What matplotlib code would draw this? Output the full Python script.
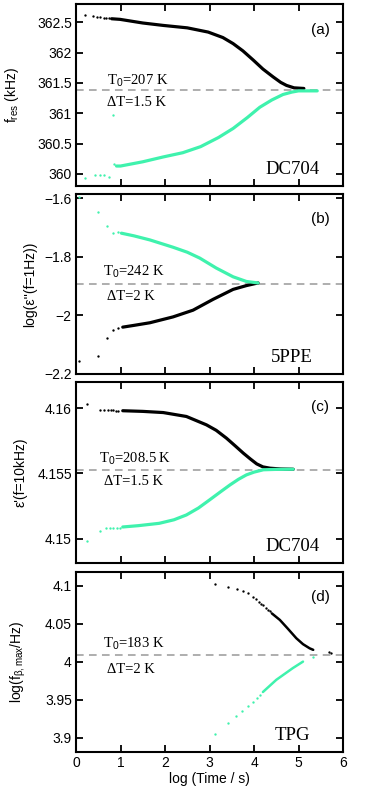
import matplotlib
matplotlib.use('Agg')
import matplotlib.pyplot as plt

plt.rcParams['font.family'] = ['Liberation Sans', 'DejaVu Sans']
plt.rcParams['mathtext.fontset'] = 'custom'
plt.rcParams['mathtext.rm'] = 'Liberation Sans'
plt.rcParams['mathtext.it'] = 'Liberation Sans'

TEAL = '#3ff2ad'

# (a) DC704 resonance frequency
a_blk_dots_x = [0.2, 0.39, 0.48, 0.55, 0.62, 0.68, 0.74]
a_blk_dots_y = [362.63, 362.6, 362.59, 362.585, 362.58, 362.575, 362.57]
a_blk_x = [0.8, 0.99, 1.5, 1.96, 2.5, 2.97, 3.3, 3.53, 3.75, 3.98, 4.2, 4.43, 4.6, 4.73, 4.9, 5.12]
a_blk_y = [362.56, 362.55, 362.49, 362.45, 362.41, 362.34, 362.25, 362.15, 362.03, 361.88,
           361.73, 361.6, 361.51, 361.46, 361.42, 361.41]
a_tea_dots_x = [0.2, 0.42, 0.55, 0.64, 0.74, 0.82, 0.86]
a_tea_dots_y = [359.94, 359.98, 359.98, 359.98, 359.95, 360.98, 360.16]
a_tea_x = [0.91, 1.0, 1.5, 1.96, 2.4, 2.8, 3.2, 3.53, 3.85, 4.13, 4.4, 4.65, 4.85, 5.0, 5.2, 5.42]
a_tea_y = [360.13, 360.13, 360.2, 360.28, 360.35, 360.45, 360.6, 360.75, 360.93, 361.1,
           361.22, 361.31, 361.35, 361.37, 361.37, 361.37]

# (b) 5PPE loss
b_tea_dots_x = [0.075, 0.49, 0.69, 0.84, 0.95]
b_tea_dots_y = [-1.597, -1.647, -1.693, -1.719, -1.714]
b_tea_x = [1.02, 1.3, 1.66, 2.18, 2.5, 2.78, 3.15, 3.53, 3.83, 4.09]
b_tea_y = [-1.719, -1.728, -1.742, -1.767, -1.784, -1.804, -1.838, -1.868, -1.884, -1.889]
b_blk_dots_x = [0.075, 0.49, 0.69, 0.84, 0.95]
b_blk_dots_y = [-2.156, -2.138, -2.076, -2.049, -2.042]
b_blk_x = [1.05, 1.3, 1.66, 2.18, 2.63, 3.08, 3.53, 3.83, 4.09]
b_blk_y = [-2.04, -2.034, -2.025, -2.005, -1.982, -1.945, -1.911, -1.898, -1.889]

# (c) DC704 permittivity
c_blk_dots_x = [0.25, 0.53, 0.62, 0.72, 0.78, 0.83, 0.89, 0.94]
c_blk_dots_y = [4.16033, 4.15982, 4.15982, 4.15982, 4.15982, 4.15982, 4.15981, 4.1598]
c_blk_x = [1.05, 1.5, 1.96, 2.48, 2.93, 3.15, 3.38, 3.58, 3.76, 3.92, 4.06, 4.2, 4.36, 4.6, 4.88]
c_blk_y = [4.1598, 4.15975, 4.15966, 4.15936, 4.15872, 4.1583, 4.1577, 4.1571, 4.15655,
           4.1561, 4.15573, 4.1555, 4.1554, 4.15534, 4.15532]
c_tea_dots_x = [0.25, 0.53, 0.68, 0.76, 0.84, 0.91, 0.98]
c_tea_dots_y = [4.14985, 4.15059, 4.1508, 4.1508, 4.1508, 4.1508, 4.15085]
c_tea_x = [1.05, 1.4, 1.87, 2.2, 2.48, 2.75, 3.0, 3.25, 3.46, 3.65, 3.83, 4.0, 4.21, 4.5, 4.88]
c_tea_y = [4.1509, 4.151, 4.15118, 4.15145, 4.15182, 4.15235, 4.15297, 4.1536, 4.15412,
           4.15455, 4.15489, 4.1551, 4.15528, 4.15531, 4.15532]

# (d) TPG beta peak
d_blk_dots_x = [3.12, 3.42, 3.61, 3.76, 3.87, 3.98, 4.05, 4.11, 4.16, 4.21, 4.26, 4.31, 4.35, 5.68, 5.74]
d_blk_dots_y = [4.1022, 4.0987, 4.0952, 4.093, 4.0899, 4.0855, 4.082, 4.079, 4.076, 4.074,
                4.071, 4.068, 4.066, 4.0132, 4.011]
d_blk_x = [4.4, 4.58, 4.75, 4.95, 5.1, 5.25, 5.33]
d_blk_y = [4.0635, 4.0549, 4.044, 4.0308, 4.023, 4.0175, 4.0155]
d_tea_dots_x = [3.12, 3.42, 3.6, 3.73, 3.87, 3.98, 4.06, 4.13, 5.33]
d_tea_dots_y = [3.9049, 3.9189, 3.929, 3.9355, 3.9417, 3.947, 3.952, 3.9562, 4.0059]
d_tea_x = [4.2, 4.5, 4.87, 5.1]
d_tea_y = [3.96, 3.976, 3.9914, 4.0]

panels = [
    dict(blk=(a_blk_dots_x, a_blk_dots_y, a_blk_x, a_blk_y),
         tea=(a_tea_dots_x, a_tea_dots_y, a_tea_x, a_tea_y),
         ylim=(359.8, 362.8), yticks=[360, 360.5, 361, 361.5, 362, 362.5],
         yticklabels=['360', '360.5', '361', '361.5', '362', '362.5'],
         ylabel=r'f$_\mathrm{res}$ (kHz)', labx=-0.205, h0=361.38,
         t0='207 K', dt='1.5 K', tpos=(0.117, 0.58, 0.117, 0.46),
         tag='(a)', name='DC704', lw=2.3),
    dict(blk=(b_blk_dots_x, b_blk_dots_y, b_blk_x, b_blk_y),
         tea=(b_tea_dots_x, b_tea_dots_y, b_tea_x, b_tea_y),
         ylim=(-2.2, -1.585), yticks=[-2.2, -2.0, -1.8, -1.6],
         yticklabels=['\u22122.2', '\u22122', '\u22121.8', '\u22121.6'],
         ylabel="log(\u03b5''(f=1Hz))", labx=-0.145, h0=-1.891,
         t0='242 K', dt='2 K', tpos=(0.102, 0.565, 0.115, 0.43),
         tag='(b)', name='5PPE', lw=2.3),
    dict(blk=(c_blk_dots_x, c_blk_dots_y, c_blk_x, c_blk_y),
         tea=(c_tea_dots_x, c_tea_dots_y, c_tea_x, c_tea_y),
         ylim=(4.14814, 4.1620), yticks=[4.15, 4.155, 4.16],
         yticklabels=['4.15', '4.155', '4.16'],
         ylabel="\u03b5'(f=10kHz)", labx=-0.18, h0=4.15529,
         t0='208.5 K', dt='1.5 K', tpos=(0.087, 0.575, 0.104, 0.45),
         tag='(c)', name='DC704', lw=2.3),
    dict(blk=(d_blk_dots_x, d_blk_dots_y, d_blk_x, d_blk_y),
         tea=(d_tea_dots_x, d_tea_dots_y, d_tea_x, d_tea_y),
         ylim=(3.881, 4.118), yticks=[3.9, 3.95, 4.0, 4.05, 4.1],
         yticklabels=['3.9', '3.95', '4', '4.05', '4.1'],
         ylabel=r'log(f$_{\mathrm{\beta,max}}$/Hz)', labx=-0.18, h0=4.0092,
         t0='183 K', dt='2 K', tpos=(0.102, 0.6, 0.117, 0.46),
         tag='(d)', name='TPG', lw=1.8),
]

fig = plt.figure(figsize=(3.82, 7.94), dpi=100)
bottoms = [0.7657, 0.529, 0.2909, 0.0529]
heights = [0.229, 0.2267, 0.228, 0.2267]

for i, p in enumerate(panels):
    ax = fig.add_axes([0.199, bottoms[i], 0.699, heights[i]])
    ax.axhline(p['h0'], color='#999999', lw=1.1, dashes=(5, 3.5), zorder=1)
    for key, col in (('blk', 'black'), ('tea', TEAL)):
        dx, dy, lx, ly = p[key]
        ax.plot(dx, dy, 'o', color=col, ms=1.7, mew=0, zorder=3)
        ax.plot(lx, ly, '-', color=col, lw=p['lw'], solid_capstyle='round', zorder=3)
    ax.set_xlim(0, 6)
    ax.set_ylim(*p['ylim'])
    ax.set_yticks(p['yticks'])
    ax.set_yticklabels(p['yticklabels'])
    ax.set_xticks(range(7))
    ax.tick_params(direction='in', top=True, right=True, length=5, width=1.3,
                   labelsize=10, pad=3)
    for s in ax.spines.values():
        s.set_linewidth(1.5)
    if i < 3:
        ax.set_xticklabels([])
    else:
        ax.set_xlabel('log (Time / s)', fontsize=10, labelpad=1)
    ax.set_ylabel(p['ylabel'], fontsize=10)
    ax.yaxis.set_label_coords(p['labx'], 0.5)
    tx, ty, dx_, dy_ = p['tpos']
    ax.text(tx, ty, 'T$_0$=' + p['t0'], transform=ax.transAxes,
            family='Liberation Serif', fontsize=10.5, va='center', ha='left')
    ax.text(dx_, dy_, '\u0394T=' + p['dt'], transform=ax.transAxes,
            family='Liberation Serif', fontsize=10.5, va='center', ha='left')
    ax.text(0.915, 0.86, p['tag'], transform=ax.transAxes, fontsize=11,
            va='center', ha='center')
    ax.text(0.81, 0.09, p['name'], transform=ax.transAxes,
            family='Liberation Serif', fontsize=13.5, va='center', ha='center')

fig.savefig('out.png', dpi=100)
